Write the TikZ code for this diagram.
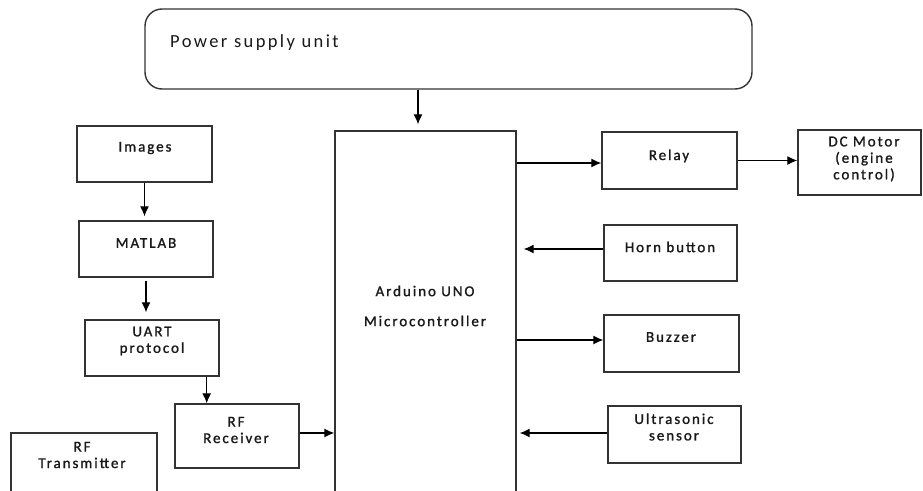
\documentclass[tikz,border=0pt]{standalone}
\usepackage{fontspec}
\setmainfont{Carlito}[LetterSpace=13, FakeBold=1.2]
\newfontfamily\psufont{Carlito}[LetterSpace=13]
\usetikzlibrary{arrows.meta, positioning}

\begin{document}
\begin{tikzpicture}[x=1pt, y=-1pt,
  blk/.style={draw=black!80, line width=1.4pt, inner sep=0pt},
  lbl/.style={font=\fontsize{15}{16.5}\selectfont, align=center, inner sep=0pt, text=black!90},
  arr/.style={-{Latex[length=10pt,width=9pt]}, line width=1.1pt}]
\clip (0,0) rectangle (923,490);
\fill[white] (0,0) rectangle (923,490);
% power supply and controller
\node[blk, rounded corners=17pt, minimum width=607pt, minimum height=80pt] (psu) at (448.5,49) {};
\node[lbl, anchor=west, font=\psufont\fontsize{18.5}{20}\selectfont] (psutxt) at (170,43) {Power supply unit};
\node[blk, minimum width=181pt, minimum height=364pt] (arduino) at (425.5,313) {};
\node[lbl] (arduinotxt) at (425,306) {Arduino UNO\\[13.5pt]Microcontroller};
% left chain
\node[blk, minimum width=135pt, minimum height=56pt] (images) at (144.5,154) {};
\node[lbl] at (145,148) {Images};
\node[blk, minimum width=134pt, minimum height=56pt] (matlab) at (146,249) {};
\node[lbl] at (146,243) {MATLAB};
\node[blk, minimum width=134pt, minimum height=56pt] (uart) at (152,348) {};
\node[lbl] at (152,341) {UART\\protocol};
\node[blk, minimum width=124pt, minimum height=64pt] (rfrx) at (237,436) {};
\node[lbl] at (236,430) {RF\\Receiver};
\node[blk, minimum width=146pt, minimum height=62pt] (rftx) at (84,464) {};
\node[lbl] at (82,455) {RF\\Transmitter};
% right side
\node[blk, minimum width=135pt, minimum height=57pt] (relay) at (669.5,160.5) {};
\node[lbl] at (669,156) {Relay};
\node[blk, minimum width=123pt, minimum height=65pt] (dc) at (859.5,162.5) {};
\node[lbl] at (864,159) {DC Motor\\(engine\\control)};
\node[blk, minimum width=133pt, minimum height=56pt] (horn) at (670.5,253) {};
\node[lbl] at (670,247) {Horn button};
\node[blk, minimum width=135pt, minimum height=57pt] (buzzer) at (671.5,343.5) {};
\node[lbl] at (671,337) {Buzzer};
\node[blk, minimum width=133pt, minimum height=57pt] (ultra) at (674.5,434.5) {};
\node[lbl] at (674,427) {Ultrasonic\\sensor};
% arrows
\draw[arr, shorten >=6pt] ([xshift=-7.5pt]arduino.north |- psu.south) -- ([xshift=-7.5pt]arduino.north);
\draw[arr, shorten >=4pt] (images.south) -- (images.south |- matlab.north);
\draw[arr, shorten <=3pt, shorten >=7pt] (matlab.south) -- (matlab.south |- uart.north);
\draw[arr] ([xshift=-13pt]uart.south east) -- ([xshift=-13pt]uart.south east |- rfrx.north);
\draw[arr] ([yshift=3pt]rfrx.east) -- ([yshift=3pt]rfrx.east -| arduino.west);
\draw[arr] ([yshift=-2.5pt]arduino.east |- relay.west) -- ([yshift=-2.5pt]relay.west);
\draw[arr] (relay.east) -- (relay.east -| dc.west);
\draw[arr, shorten >=7pt] ([yshift=4pt]horn.west) -- ([yshift=4pt]horn.west -| arduino.east);
\draw[arr] ([yshift=3.5pt]buzzer.west -| arduino.east) -- ([yshift=3.5pt]buzzer.west);
\draw[arr, shorten >=3pt] ([yshift=1.5pt]ultra.west) -- ([yshift=1.5pt]ultra.west -| arduino.east);
\end{tikzpicture}
\end{document}
